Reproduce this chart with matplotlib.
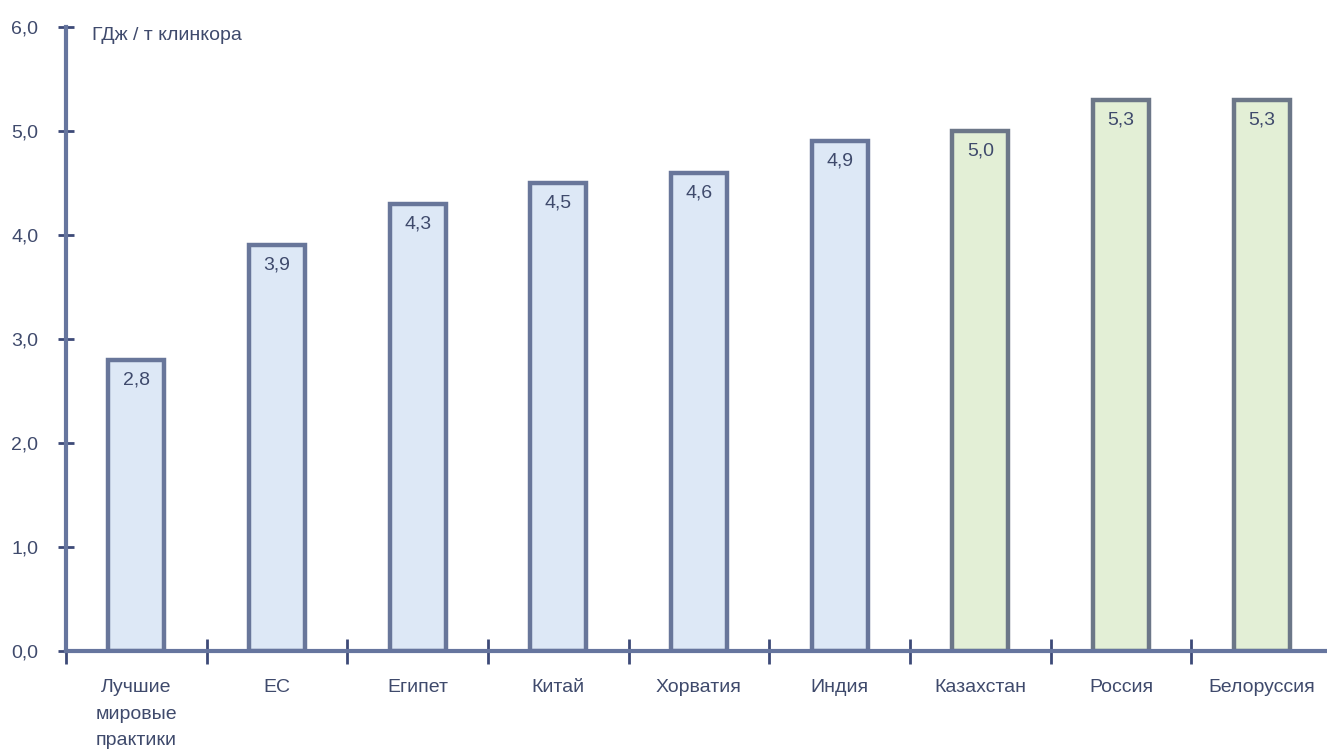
import matplotlib
matplotlib.use("Agg")
import matplotlib.pyplot as plt
from matplotlib import font_manager

categories = ["Лучшие\nмировые\nпрактики", "ЕС", "Египет", "Китай", "Хорватия",
              "Индия", "Казахстан", "Россия", "Белоруссия"]
values = [2.8, 3.9, 4.3, 4.5, 4.6, 4.9, 5.0, 5.3, 5.3]
value_labels = ["2,8", "3,9", "4,3", "4,5", "4,6", "4,9", "5,0", "5,3", "5,3"]
groups = ["world"] * 6 + ["cis"] * 3
y_ticks = [0, 1, 2, 3, 4, 5, 6]
y_tick_labels = ["0,0", "1,0", "2,0", "3,0", "4,0", "5,0", "6,0"]
unit_label = "ГДж / т клинкора"

installed = {f.name for f in font_manager.fontManager.ttflist}
family = "Liberation Sans Narrow" if "Liberation Sans Narrow" in installed else "Liberation Sans"
plt.rcParams["font.family"] = [family, "DejaVu Sans"]

fill = {"world": "#dde8f6", "cis": "#e3efd6"}
edge = {"world": "#68769a", "cis": "#6c7788"}
axis_color = "#66759e"
text_color = "#3f4a6c"

W, H = 1327, 753
fig = plt.figure(figsize=(W / 100, H / 100), dpi=100)
x0, y0, y6, x9 = 66, 651, 27, 1332
ax = fig.add_axes([x0 / W, (H - y0) / H, (x9 - x0) / W, (y0 - y6) / H])

xs = [i + 0.5 for i in range(len(values))]
for x, v, g, lab in zip(xs, values, groups, value_labels):
    ax.bar(x, v, width=0.4, color=fill[g], edgecolor=edge[g], linewidth=3.2, zorder=2)
    ax.text(x, v - 0.11, lab, ha="center", va="top", fontsize=14, color=text_color, zorder=3)

ax.set_xlim(0, 9)
ax.set_ylim(0, 6)
for s in ["top", "right"]:
    ax.spines[s].set_visible(False)
for s in ["left", "bottom"]:
    ax.spines[s].set_color(axis_color)
    ax.spines[s].set_linewidth(3)
    ax.spines[s].set_zorder(4)

ax.set_yticks(y_ticks)
ax.set_yticklabels(y_tick_labels)
ax.tick_params(axis="y", direction="inout", length=12, width=2, color="#3d4a78",
               labelsize=14, labelcolor=text_color, pad=14)
ax.set_xticks(range(0, 10))
ax.set_xticklabels([])
ax.set_xticks(xs, minor=True)
ax.set_xticklabels(categories, minor=True)
ax.tick_params(axis="x", which="major", direction="inout", length=18, width=2, color="#3d4a78")
ax.tick_params(axis="x", which="minor", length=0, labelsize=14, labelcolor=text_color, pad=20)
for t in ax.get_xticklabels(minor=True):
    t.set_linespacing(1.75)
    t.set_verticalalignment("top")

fig.text(92 / W, 1 - 35 / H, unit_label, fontsize=14, color=text_color, va="center", ha="left")

fig.savefig("out.png", dpi=100, facecolor="white")
